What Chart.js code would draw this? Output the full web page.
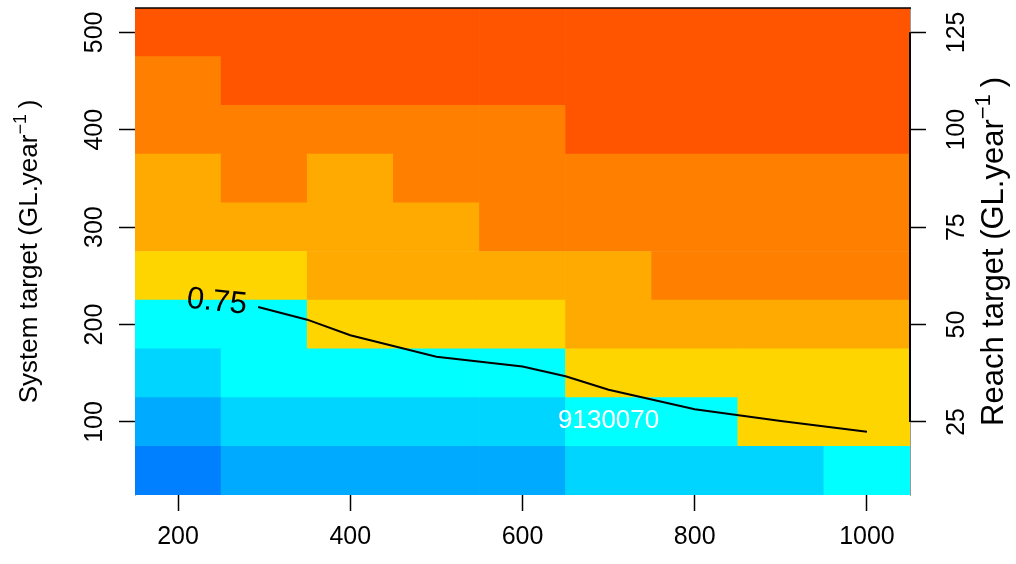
<!DOCTYPE html>
<html>
<head>
<meta charset="utf-8">
<script src="https://cdn.jsdelivr.net/npm/chart.js@4.4.0/dist/chart.umd.min.js"></script>
<style>
  html, body { margin: 0; padding: 0; background: #fff; }
  #wrap { width: 1016px; height: 564px; }
</style>
</head>
<body>
<div id="wrap"><canvas id="chart" width="1016" height="564"></canvas></div>
<script>
/* ------------------------------------------------
   System target vs. flow heatmap (Chart.js)
   ------------------------------------------------ */

const FONT = "'Liberation Sans', Arial, Helvetica, sans-serif";

// cell centres
const xCenters = [200, 300, 400, 500, 600, 700, 800, 900, 1000];
const yCenters = [50, 100, 150, 200, 250, 300, 350, 400, 450, 500];

// axis ticks
const xTicks = [200, 400, 600, 800, 1000];
const yTicks = [100, 200, 300, 400, 500];
const reachTicks = [25, 50, 75, 100, 125];

// colour classes, low -> high
const levelColors = ['#0080FF', '#00AAFF', '#00D5FF', '#00FFFF', '#FFD500', '#FFAA00', '#FF8000', '#FF5500'];

// class of each cell; one row per yCenters entry (bottom -> top), one column per xCenters entry
const levelRows = [
  [0, 1, 1, 1, 1, 2, 2, 2, 3],
  [1, 2, 2, 2, 2, 3, 3, 4, 4],
  [2, 3, 3, 3, 3, 4, 4, 4, 4],
  [3, 3, 4, 4, 4, 5, 5, 5, 5],
  [4, 4, 5, 5, 5, 5, 6, 6, 6],
  [5, 5, 5, 5, 6, 6, 6, 6, 6],
  [5, 6, 5, 6, 6, 6, 6, 6, 6],
  [6, 6, 6, 6, 6, 7, 7, 7, 7],
  [6, 7, 7, 7, 7, 7, 7, 7, 7],
  [7, 7, 7, 7, 7, 7, 7, 7, 7]
];

// 0.75 contour
const contourX = [293, 350, 400, 500, 600, 650, 700, 800, 900, 1000];
const contourY = [218, 205, 189, 167, 157, 147, 133, 113, 101, 90];

// text placed in the plot
const contourLabel = '0.75';
const contourLabelAt = [245, 223];
const cellLabel = '9130070';
const cellLabelAt = [700, 101];

const halfW = (xCenters[1] - xCenters[0]) / 2;
const halfH = (yCenters[1] - yCenters[0]) / 2;

// one floating-bar dataset per row of cells
const cellSets = yCenters.map((yc, r) => ({
  type: 'bar',
  data: xCenters.map(xc => ({ x: xc, y: [yc - halfH, yc + halfH] })),
  backgroundColor: levelRows[r].map(l => levelColors[l]),
  borderWidth: 0,
  grouped: false,
  barPercentage: 1,
  categoryPercentage: 1,
  order: 2,
  yAxisID: 'y'
}));

const contourSet = {
  type: 'line',
  data: contourX.map((x, i) => ({ x: x, y: contourY[i] })),
  borderColor: '#000',
  borderWidth: 2,
  pointRadius: 0,
  tension: 0,
  order: 1,
  yAxisID: 'y'
};

function drawUp(ctx, text, x, y) {
  ctx.save();
  ctx.translate(x, y);
  ctx.rotate(-Math.PI / 2);
  ctx.fillText(text, 0, 0);
  ctx.restore();
}

// axis title with a raised "-1"
function drawTitle(ctx, main, sup, x, yMid, size) {
  const big = `${size}px ${FONT}`;
  const small = `${Math.round(size * 0.7)}px ${FONT}`;
  ctx.font = big;
  const w1 = ctx.measureText(main).width;
  const w3 = ctx.measureText(')').width;
  ctx.font = small;
  const w2 = ctx.measureText(sup).width;
  const gap = size * 0.22;
  const total = w1 + w2 + gap + w3;

  ctx.save();
  ctx.translate(x, yMid);
  ctx.rotate(-Math.PI / 2);
  ctx.textAlign = 'left';
  ctx.textBaseline = 'alphabetic';
  let cx = -total / 2;
  ctx.font = big;
  ctx.fillText(main, cx, 0);
  cx += w1;
  ctx.font = small;
  ctx.fillText(sup, cx, -size * 0.42);
  cx += w2 + gap;
  ctx.font = big;
  ctx.fillText(')', cx, 0);
  ctx.restore();
}

const decorations = {
  id: 'decorations',
  afterDatasetsDraw(chart) {
    const { ctx, chartArea: a, scales: { x, y, y2 } } = chart;
    ctx.save();

    // frame
    ctx.strokeStyle = '#000';
    ctx.lineWidth = 1.5;
    ctx.beginPath();
    ctx.moveTo(a.left, a.top);
    ctx.lineTo(a.right + 1, a.top);
    ctx.stroke();

    // right axis line, from first to last tick
    ctx.lineWidth = 2;
    ctx.beginPath();
    ctx.moveTo(a.right, y2.getPixelForValue(reachTicks[0]));
    ctx.lineTo(a.right, y2.getPixelForValue(reachTicks[reachTicks.length - 1]));
    ctx.stroke();

    // contour label
    ctx.fillStyle = '#000';
    ctx.font = `31px ${FONT}`;
    ctx.textAlign = 'center';
    ctx.textBaseline = 'middle';
    ctx.save();
    ctx.translate(x.getPixelForValue(contourLabelAt[0]), y.getPixelForValue(contourLabelAt[1]));
    ctx.rotate(6 * Math.PI / 180);
    ctx.fillText(contourLabel, 0, 0);
    ctx.restore();

    // cell label
    ctx.fillStyle = '#fff';
    ctx.font = `26px ${FONT}`;
    ctx.fillText(cellLabel, x.getPixelForValue(cellLabelAt[0]), y.getPixelForValue(cellLabelAt[1]));

    ctx.restore();
  },
  afterDraw(chart) {
    const { ctx, chartArea: a, scales: { y, y2 } } = chart;
    ctx.save();
    ctx.fillStyle = '#000';
    ctx.textAlign = 'center';
    ctx.textBaseline = 'alphabetic';
    ctx.font = `25px ${FONT}`;

    // left and right tick labels, reading upwards
    yTicks.forEach(v => drawUp(ctx, String(v), a.left - 33, y.getPixelForValue(v)));
    reachTicks.forEach(v => drawUp(ctx, String(v), a.right + 54, y2.getPixelForValue(v)));

    // axis titles
    const mid = (a.top + a.bottom) / 2;
    drawTitle(ctx, 'System target (GL.year', '\u22121', 37, mid, 26);
    drawTitle(ctx, 'Reach target (GL.year', '\u22121', a.right + 93, mid, 31);
    ctx.restore();
  }
};

const tickGrid = {
  drawOnChartArea: false,
  drawTicks: true,
  tickLength: 16,
  tickColor: '#000',
  tickWidth: 1.5
};

new Chart(document.getElementById('chart'), {
  type: 'bar',
  data: { datasets: [contourSet, ...cellSets] },
  options: {
    responsive: false,
    animation: false,
    layout: { padding: { top: 8, left: 0, right: 0, bottom: 0 } },
    plugins: {
      legend: { display: false },
      tooltip: { enabled: false }
    },
    scales: {
      x: {
        type: 'linear',
        position: 'bottom',
        min: 150,
        max: 1050,
        offset: false,
        afterBuildTicks: s => { s.ticks = xTicks.map(v => ({ value: v })); },
        afterFit: s => { s.height = 69; },
        grid: { ...tickGrid, offset: false },
        border: { display: false },
        ticks: {
          color: '#000',
          padding: 11,
          maxRotation: 0,
          autoSkip: false,
          font: { family: FONT, size: 25 },
          callback: v => String(v)
        }
      },
      y: {
        type: 'linear',
        position: 'left',
        min: 25,
        max: 525,
        beginAtZero: false,
        afterBuildTicks: s => { s.ticks = yTicks.map(v => ({ value: v })); },
        afterFit: s => { s.width = 135; },
        grid: tickGrid,
        border: { display: true, color: '#bbb', width: 1 },
        ticks: { display: false }
      },
      y2: {
        type: 'linear',
        position: 'right',
        min: 6.25,
        max: 131.25,
        beginAtZero: false,
        afterBuildTicks: s => { s.ticks = reachTicks.map(v => ({ value: v })); },
        afterFit: s => { s.width = 106; },
        grid: tickGrid,
        border: { display: true, color: '#999', width: 1 },
        ticks: { display: false }
      }
    }
  },
  plugins: [decorations]
});
</script>
</body>
</html>
